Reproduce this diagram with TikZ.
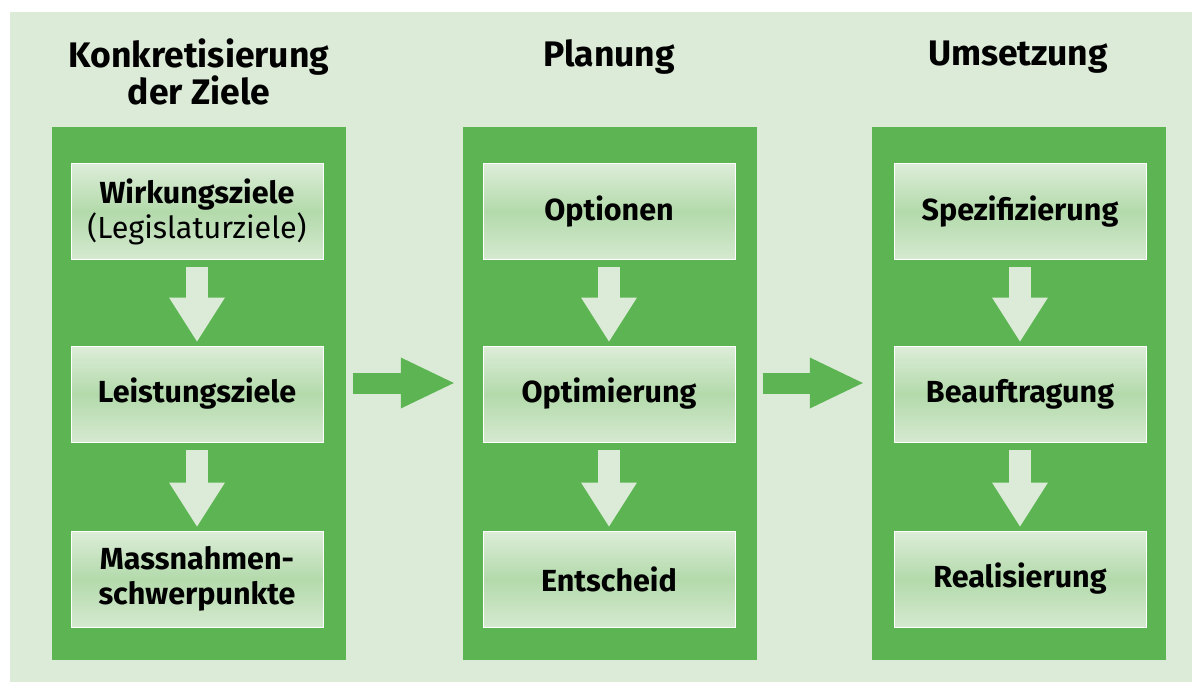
\documentclass[tikz,border=0pt]{standalone}
\usepackage{fontspec}
\setmainfont{Fira Sans}
\usetikzlibrary{arrows.meta}

\definecolor{bggreen}{HTML}{DCEBD8}
\definecolor{panelgreen}{HTML}{5CB552}
\definecolor{boxtop}{HTML}{DDEDD9}
\definecolor{boxmid}{HTML}{B3DAAB}
\definecolor{boxbottom}{HTML}{D5E9D0}

\begin{document}
\begin{tikzpicture}[x=1pt, y=-1pt,
					panel/.style={fill=panelgreen, minimum width=294pt, minimum height=533pt, inner sep=0pt},
					box/.style={draw=white, line width=1pt, top color=boxtop, bottom color=boxbottom, middle color=boxmid,
						minimum width=252pt, minimum height=96pt, inner sep=0pt, align=center,
						font=\fontsize{30.5}{35}\selectfont\bfseries},
					title/.style={align=center, font=\fontsize{35.5}{31}\selectfont\bfseries},
					down/.style={draw=bggreen, line width=22pt, -{Triangle[width=56pt, length=44pt, line width=0pt]},
						shorten <=7pt, shorten >=4pt},
					flow/.style={draw=panelgreen, line width=21pt, -{Triangle[width=51pt, length=53pt, line width=0pt]}}]
\useasboundingbox (0,0) rectangle (1192,682);
\fill[bggreen] (10,12) rectangle (1192,682);

% titles
\node[title] (titleA) at (199,72) {Konkretisierung\\der Ziele};
\node[title] (titleB) at (609,57) {Planung};
\node[title] (titleC) at (1018,57) {Umsetzung};

% panels
\node[panel] (panelA) at (199,393.5) {};
\node[panel] (panelB) at (609.5,393.5) {};
\node[panel] (panelC) at (1019,393.5) {};

% steps
\node[box] (wirkung) at (197,211.5) {Wirkungsziele\\\mdseries(Legislaturziele)};
\node[box] (leistung) at (197,394) {Leistungsziele};
\node[box] (massnahmen) at (197,579) {Massnahmen-\\schwerpunkte};

\node[box] (optionen) at (609,211.5) {Optionen};
\node[box] (optimierung) at (609,394) {Optimierung};
\node[box] (entscheid) at (609,579) {Entscheid};

\node[box] (spez) at (1020,211.5) {Spezifizierung};
\node[box] (beauftragung) at (1020,394) {Beauftragung};
\node[box] (realisierung) at (1020,579) {Realisierung};

% arrows
\draw[down] (wirkung) -- (leistung);
\draw[down] (leistung) -- (massnahmen);
\draw[down] (optionen) -- (optimierung);
\draw[down] (optimierung) -- (entscheid);
\draw[down] (spez) -- (beauftragung);
\draw[down] (beauftragung) -- (realisierung);

\draw[flow, shorten <=7pt, shorten >=8.5pt] ([yshift=10.5pt]panelA.east) -- ([yshift=10.5pt]panelB.west);
\draw[flow, shorten <=6pt, shorten >=9pt] ([yshift=10.5pt]panelB.east) -- ([yshift=10.5pt]panelC.west);
\end{tikzpicture}
\end{document}
